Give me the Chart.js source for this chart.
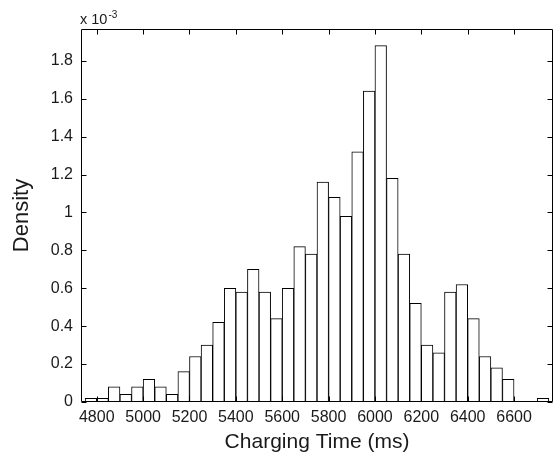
<!DOCTYPE html>
<html>
<head>
<meta charset="utf-8">
<script src="https://cdn.jsdelivr.net/npm/chart.js@4"></script>
<style>
  html, body { margin: 0; padding: 0; background: #fff; }
  #wrap { width: 556px; height: 461px; }
</style>
</head>
<body>
<div id="wrap"><canvas id="c" width="556" height="461"></canvas></div>
<script>
// Bin left edges (ms), bin width 50 ms
const binStarts = [4750,4800,4850,4900,4950,5000,5050,5100,5150,5200,
                   5250,5300,5350,5400,5450,5500,5550,5600,5650,5700,
                   5750,5800,5850,5900,5950,6000,6050,6100,6150,6200,
                   6250,6300,6350,6400,6450,6500,6550,6600,6650,6700];
const binWidth = 50;
// Density values in units of 1e-3
const density = [0.02,0.02,0.08,0.04,0.08,0.12,0.08,0.04,0.16,0.24,
                 0.30,0.42,0.60,0.58,0.70,0.58,0.44,0.60,0.82,0.78,
                 1.16,1.08,0.98,1.32,1.64,1.88,1.18,0.78,0.52,0.30,
                 0.26,0.58,0.62,0.44,0.24,0.18,0.12,0.00,0.00,0.02];
const xTicks = [4800,5000,5200,5400,5600,5800,6000,6200,6400,6600];
const yTicks = [0,0.2,0.4,0.6,0.8,1,1.2,1.4,1.6,1.8];

const FONT = "'Liberation Sans', Arial, Helvetica, sans-serif";
const TEXT = '#1a1a1a';

const points = binStarts.map((s, i) => ({ x: s + binWidth / 2, y: density[i] }));

const framePlugin = {
  id: 'frame',
  afterDraw(chart) {
    const ctx = chart.ctx;
    const a = chart.chartArea;
    const xs = chart.scales.x, ys = chart.scales.y;
    ctx.save();
    ctx.strokeStyle = '#000';
    ctx.lineWidth = 1;
    const L = Math.round(a.left) + 0.5, R = Math.round(a.right) - 0.5;
    const T = Math.round(a.top) + 0.5, B = Math.round(a.bottom) - 0.5;
    ctx.beginPath();
    ctx.rect(L, T, R - L, B - T);
    const tl = 5;
    xTicks.forEach(v => {
      const px = Math.round(xs.getPixelForValue(v)) + 0.5;
      ctx.moveTo(px, B); ctx.lineTo(px, B - tl);
      ctx.moveTo(px, T); ctx.lineTo(px, T + tl);
    });
    yTicks.forEach(v => {
      const py = Math.round(ys.getPixelForValue(v)) + 0.5;
      ctx.moveTo(L, py); ctx.lineTo(L + tl, py);
      ctx.moveTo(R, py); ctx.lineTo(R - tl, py);
    });
    ctx.stroke();
    // exponent label
    ctx.fillStyle = TEXT;
    ctx.textBaseline = 'alphabetic';
    ctx.textAlign = 'left';
    ctx.font = '14.5px ' + FONT;
    const base = 'x 10';
    ctx.fillText(base, L - 1.5, 24);
    const w = ctx.measureText(base).width;
    ctx.font = '10px ' + FONT;
    ctx.fillText('-3', L - 1.5 + w + 1, 17.5);
    ctx.restore();
  }
};

new Chart(document.getElementById('c'), {
  type: 'bar',
  data: {
    datasets: [{
      data: points,
      backgroundColor: '#ffffff',
      borderColor: '#000000',
      borderWidth: 1,
      borderSkipped: false,
      barPercentage: 1,
      categoryPercentage: 1
    }]
  },
  options: {
    responsive: false,
    animation: false,
    devicePixelRatio: 1,
    layout: { padding: { left: 0, right: 3, top: 29, bottom: 0 } },
    plugins: { legend: { display: false }, tooltip: { enabled: false } },
    scales: {
      x: {
        type: 'linear',
        min: 4732, max: 6768,
        offset: false,
        grid: { display: false, drawTicks: false },
        border: { display: false },
        afterBuildTicks: s => { s.ticks = xTicks.map(v => ({ value: v })); },
        afterFit: s => { s.height = 59; },
        ticks: {
          color: TEXT, font: { family: FONT, size: 16 }, padding: 6,
          maxRotation: 0, autoSkip: false,
          callback: v => String(v)
        },
        title: {
          display: true, text: 'Charging Time (ms)', color: TEXT,
          font: { family: FONT, size: 21 }, padding: { top: 0, bottom: 6 }
        }
      },
      y: {
        type: 'linear',
        min: 0, max: 1.968,
        grid: { display: false, drawTicks: false },
        border: { display: false },
        afterBuildTicks: s => { s.ticks = yTicks.map(v => ({ value: v })); },
        afterFit: s => { s.width = 81; },
        ticks: {
          color: TEXT, font: { family: FONT, size: 16 }, padding: 8,
          autoSkip: false,
          callback: v => String(Math.round(v * 10) / 10)
        },
        title: {
          display: true, text: 'Density', color: TEXT,
          font: { family: FONT, size: 22 }, padding: { top: 9, bottom: 0 }
        }
      }
    }
  },
  plugins: [framePlugin]
});
</script>
</body>
</html>
